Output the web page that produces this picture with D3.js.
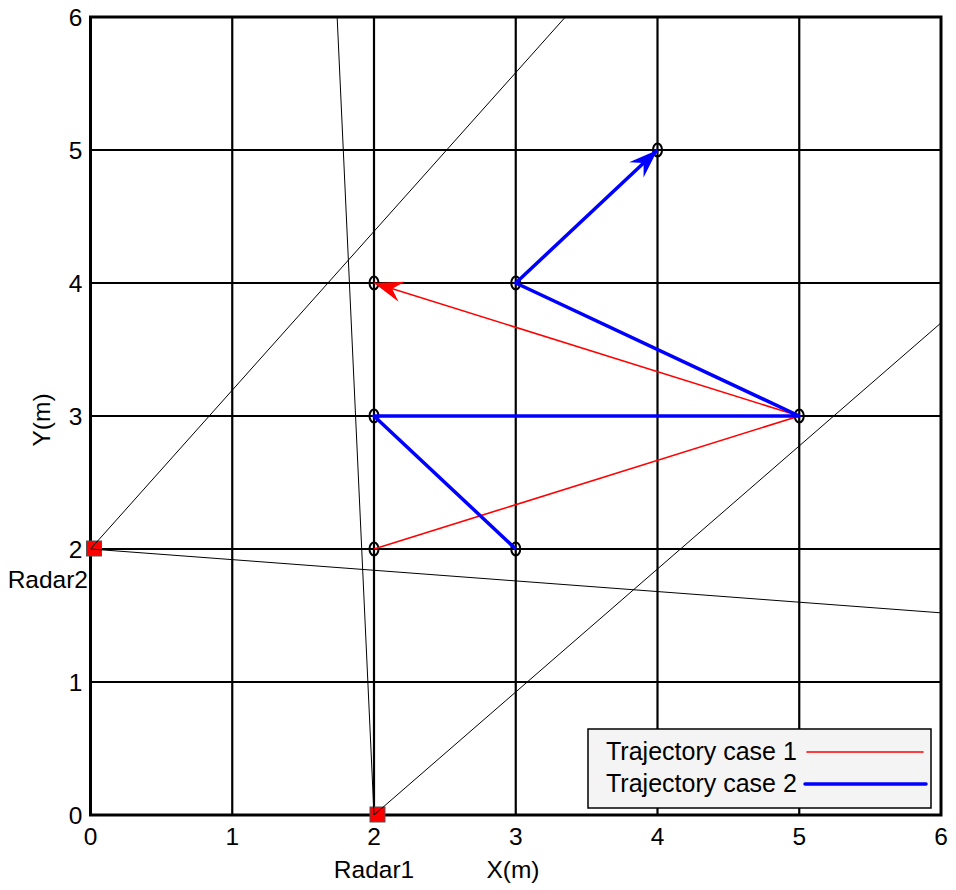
<!DOCTYPE html>
<html>
<head>
<meta charset="utf-8">
<script src="https://cdn.jsdelivr.net/npm/d3@7"></script>
<style>
  body { margin: 0; background: #fff; }
  text { font-family: "Liberation Sans", Arial, sans-serif; fill: #000; }
</style>
</head>
<body>
<div id="chart"></div>
<script>
// Data
const xTicks = [0, 1, 2, 3, 4, 5, 6];
const yTicks = [0, 1, 2, 3, 4, 5, 6];
const radars = [
    { name: 'Radar1', x: 2, y: 0 },
    { name: 'Radar2', x: 0, y: 2 }
];
// beam edges: each from a radar to a far point
const beams = [
    { from: [2, 0], to: [1.74, 6] },
    { from: [2, 0], to: [6, 3.70] },
    { from: [0, 2], to: [3.35, 6] },
    { from: [0, 2], to: [6, 1.52] }
];
const case1 = [[2, 2], [5, 3], [2, 4]];
const case2 = [[3, 2], [2, 3], [5, 3], [3, 4], [4, 5]];
const waypoints = [[2, 2], [2, 3], [2, 4], [3, 2], [3, 4], [4, 5], [5, 3]];

const width = 956, height = 890;
const margin = { top: 17, right: 15, bottom: 75, left: 90.5 };
const innerW = width - margin.left - margin.right;
const innerH = height - margin.top - margin.bottom;

const xScale = d3.scaleLinear().domain([0, 6]).range([0, innerW]);
const yScale = d3.scaleLinear().domain([0, 6]).range([innerH, 0]);

const svg = d3.select('#chart').append('svg')
    .attr('width', width)
    .attr('height', height);

const viz = svg.append('g')
    .attr('transform', `translate(${margin.left}, ${margin.top})`);

svg.append('defs').append('clipPath').attr('id', 'clip')
    .append('rect').attr('width', innerW).attr('height', innerH);

// Grid
viz.append('g').selectAll('line.vg')
    .data(xTicks.slice(1, -1))
    .join('line')
    .attr('x1', d => xScale(d)).attr('x2', d => xScale(d))
    .attr('y1', 0).attr('y2', innerH)
    .attr('stroke', '#000').attr('stroke-width', 2.2);
viz.append('g').selectAll('line.hg')
    .data(yTicks.slice(1, -1))
    .join('line')
    .attr('y1', d => yScale(d)).attr('y2', d => yScale(d))
    .attr('x1', 0).attr('x2', innerW)
    .attr('stroke', '#000').attr('stroke-width', 2.2);

const plot = viz.append('g').attr('clip-path', 'url(#clip)');

const line = d3.line().x(d => xScale(d[0])).y(d => yScale(d[1]));

function arrowHead(pts, color) {
    const a = pts[pts.length - 2], b = pts[pts.length - 1];
    const x1 = xScale(a[0]), y1 = yScale(a[1]);
    const x2 = xScale(b[0]), y2 = yScale(b[1]);
    const ang = Math.atan2(y2 - y1, x2 - x1);
    const L = 29, W = 10.5, N = 19;
    const ux = Math.cos(ang), uy = Math.sin(ang);
    const px = -uy, py = ux;
    const p = [
        [x2, y2],
        [x2 - L * ux + W * px, y2 - L * uy + W * py],
        [x2 - N * ux, y2 - N * uy],
        [x2 - L * ux - W * px, y2 - L * uy - W * py]
    ];
    plot.append('path')
        .attr('d', 'M' + p.map(q => q.join(',')).join('L') + 'Z')
        .attr('fill', color);
}

plot.append('path').datum(case1)
    .attr('d', line)
    .attr('fill', 'none').attr('stroke', '#ff0000').attr('stroke-width', 1.6);
arrowHead(case1, '#ff0000');

plot.append('path').datum(case2)
    .attr('d', line)
    .attr('fill', 'none').attr('stroke', '#0000ff').attr('stroke-width', 3.5)
    .attr('stroke-linejoin', 'round');
arrowHead(case2, '#0000ff');

// Waypoint markers
viz.selectAll('ellipse.wp')
    .data(waypoints)
    .join('ellipse')
    .attr('cx', d => xScale(d[0])).attr('cy', d => yScale(d[1]))
    .attr('rx', 4.5).attr('ry', 6.5)
    .attr('fill', 'none').attr('stroke', '#000').attr('stroke-width', 2);

// Frame
viz.append('rect')
    .attr('width', innerW).attr('height', innerH)
    .attr('fill', 'none').attr('stroke', '#000').attr('stroke-width', 3);

// Radar markers
viz.selectAll('rect.radar')
    .data(radars)
    .join('rect')
    .attr('x', d => xScale(d.x) - 4).attr('y', d => yScale(d.y) - 8)
    .attr('width', 15).attr('height', 15)
    .attr('fill', '#ff0000').attr('stroke', '#555').attr('stroke-width', 1);

// Beams (drawn over the radar squares)
plot.selectAll('line.beam')
    .data(beams)
    .join('line')
    .attr('x1', d => xScale(d.from[0])).attr('y1', d => yScale(d.from[1]))
    .attr('x2', d => xScale(d.to[0])).attr('y2', d => yScale(d.to[1]))
    .attr('stroke', '#000').attr('stroke-width', 1);
plot.raise();

// Tick labels
viz.append('g').selectAll('text')
    .data(xTicks)
    .join('text')
    .attr('x', d => xScale(d)).attr('y', innerH + 30)
    .attr('text-anchor', 'middle')
    .style('font-size', '24.5px')
    .text(d => d);
viz.append('g').selectAll('text')
    .data(yTicks)
    .join('text')
    .attr('x', -8).attr('y', d => yScale(d) + 8.5)
    .attr('text-anchor', 'end')
    .style('font-size', '24.5px')
    .text(d => d);

// Axis labels
svg.append('text')
    .attr('x', 513).attr('y', 878)
    .attr('text-anchor', 'middle')
    .style('font-size', '24.5px')
    .text('X(m)');
svg.append('text')
    .attr('transform', 'translate(50, 420) rotate(-90)')
    .attr('text-anchor', 'middle')
    .style('font-size', '24.5px')
    .text('Y(m)');
svg.append('text')
    .attr('x', margin.left + xScale(2)).attr('y', 878)
    .attr('text-anchor', 'middle')
    .style('font-size', '24.5px')
    .text('Radar1');
svg.append('text')
    .attr('x', 88).attr('y', 588)
    .attr('text-anchor', 'end')
    .style('font-size', '24.5px')
    .text('Radar2');

// Legend
const legend = svg.append('g');
legend.append('rect')
    .attr('x', 588).attr('y', 729)
    .attr('width', 343).attr('height', 79)
    .attr('fill', '#f4f4f4').attr('stroke', '#000').attr('stroke-width', 1.5);
const legendItems = [
    { label: 'Trajectory case 1', color: '#ff0000', w: 1.6, y: 760, x1: 807, x2: 923 },
    { label: 'Trajectory case 2', color: '#0000ff', w: 3.5, y: 792, x1: 805, x2: 926 }
];
legend.selectAll('text')
    .data(legendItems)
    .join('text')
    .attr('x', 606).attr('y', d => d.y)
    .style('font-size', '25px')
    .text(d => d.label);
legend.selectAll('line')
    .data(legendItems)
    .join('line')
    .attr('x1', d => d.x1).attr('x2', d => d.x2)
    .attr('y1', d => d.y - 8).attr('y2', d => d.y - 8)
    .attr('stroke', d => d.color).attr('stroke-width', d => d.w)
    .attr('stroke-linecap', 'round');
</script>
</body>
</html>
